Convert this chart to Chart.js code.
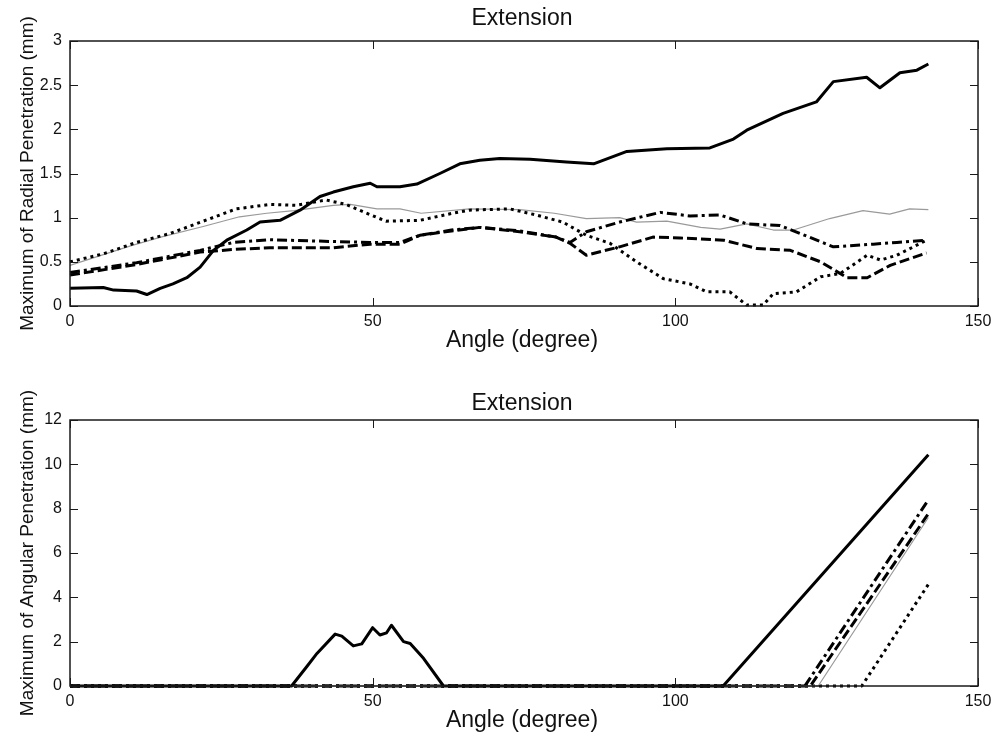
<!DOCTYPE html>
<html>
<head>
<meta charset="utf-8">
<script src="https://cdn.jsdelivr.net/npm/chart.js@4.4.0/dist/chart.umd.min.js"></script>
<style>
    body { margin: 0; background: #fff; }
    .panel { position: absolute; left: 0; width: 1005px; height: 368px; }
</style>
</head>
<body>
<div class="panel" style="top:0"><canvas id="radialChart" width="1005" height="368"></canvas></div>
<div class="panel" style="top:368px"><canvas id="angularChart" width="1005" height="368"></canvas></div>
<script>
// ============================================
// DATA
// ============================================

const angleTicks = [0, 50, 100, 150];
const radialTicks = [0, 0.5, 1, 1.5, 2, 2.5, 3];
const angularTicks = [0, 2, 4, 6, 8, 10, 12];

// Top panel - maximum of radial penetration (mm)
const radialSolidAngle = [0, 5.5, 7.2, 11, 12.7, 14.9, 17, 19.3, 21.5, 23.7, 25.9, 29.2, 31.4, 34.7, 38, 41.3, 43.5, 46.8, 49.6, 50.7, 54.5, 57.3, 61.1, 64.4, 67.7, 71, 76, 82, 86.5, 92, 98.6, 105.7, 109.6, 111.8, 117.8, 123.3, 126.1, 131.6, 133.8, 137.1, 139.9, 141.8];
const radialSolidValue = [0.2, 0.21, 0.18, 0.17, 0.13, 0.2, 0.25, 0.32, 0.44, 0.63, 0.745, 0.86, 0.95, 0.97, 1.085, 1.24, 1.29, 1.35, 1.39, 1.35, 1.35, 1.38, 1.5, 1.61, 1.65, 1.67, 1.66, 1.63, 1.61, 1.75, 1.78, 1.79, 1.89, 1.99, 2.18, 2.31, 2.54, 2.59, 2.47, 2.64, 2.67, 2.74];

const radialGrayAngle = [0, 10, 15, 22, 28, 32.5, 37, 43.5, 46.3, 50.7, 54.5, 58, 66, 74.3, 80, 85.3, 90.8, 93.6, 98.6, 104.2, 107.4, 111.8, 116.2, 119.5, 125.5, 131, 135.4, 138.7, 141.8];
const radialGrayValue = [0.46, 0.68, 0.78, 0.9, 1.01, 1.05, 1.08, 1.14, 1.15, 1.1, 1.1, 1.05, 1.1, 1.09, 1.05, 0.99, 1.0, 0.95, 0.96, 0.89, 0.87, 0.93, 0.86, 0.86, 0.99, 1.08, 1.04, 1.1, 1.09];

const radialDotAngle = [0, 5.5, 11, 16.5, 22, 27.5, 33, 37.4, 42.3, 45.6, 48.3, 52.2, 57.8, 63.2, 66, 72.6, 77, 81.4, 85.3, 89.2, 93.6, 98, 102.4, 105.2, 109, 111.8, 114.5, 116.2, 120, 124, 127.3, 131.7, 133.9, 136.6, 141.5];
const radialDotValue = [0.5, 0.59, 0.72, 0.82, 0.96, 1.1, 1.15, 1.14, 1.2, 1.15, 1.07, 0.96, 0.97, 1.05, 1.085, 1.1, 1.03, 0.95, 0.8, 0.71, 0.5, 0.31, 0.25, 0.16, 0.16, 0.01, 0.01, 0.14, 0.16, 0.33, 0.37, 0.575, 0.52, 0.575, 0.745];

const radialDashAngle = [0, 11, 21.5, 27, 33, 43.5, 49.6, 54.5, 57.8, 63, 67.7, 74.3, 80.3, 82.6, 85.3, 90.8, 96.3, 100.8, 108, 113.5, 119, 124, 128.4, 131.7, 135.5, 141.5];
const radialDashValue = [0.35, 0.47, 0.61, 0.64, 0.66, 0.66, 0.7, 0.7, 0.8, 0.85, 0.89, 0.84, 0.78, 0.71, 0.575, 0.67, 0.78, 0.77, 0.745, 0.65, 0.63, 0.5, 0.32, 0.32, 0.46, 0.6];

const radialDashDotAngle = [0, 11, 21.5, 27, 33, 43.5, 49.6, 54.5, 57.8, 63, 67.7, 74.3, 80.3, 82.6, 85.3, 90.8, 97.5, 102.4, 107.4, 111.8, 117.3, 119.2, 126.1, 132.7, 136.6, 141.5];
const radialDashDotValue = [0.38, 0.49, 0.63, 0.72, 0.75, 0.73, 0.72, 0.72, 0.8, 0.86, 0.89, 0.85, 0.78, 0.72, 0.84, 0.95, 1.06, 1.02, 1.03, 0.93, 0.91, 0.86, 0.67, 0.7, 0.72, 0.745];

// Bottom panel - maximum of angular penetration (mm)
const angularSolidAngle = [0, 36.6, 39.1, 40.8, 43.8, 44.9, 46.8, 48.2, 50, 51.2, 52.3, 53.1, 55.1, 56.2, 58.4, 61.7, 107.9, 141.8];
const angularSolidValue = [0, 0, 0.87, 1.47, 2.34, 2.25, 1.81, 1.9, 2.63, 2.3, 2.4, 2.74, 2.0, 1.92, 1.25, 0, 0, 10.43];

const angularGrayAngle = [0, 123.6, 141.8];
const angularGrayValue = [0, 0, 7.6];

const angularDotAngle = [0, 130.8, 142.1];
const angularDotValue = [0, 0, 4.71];

const angularDashAngle = [0, 122.3, 141.8];
const angularDashValue = [0, 0, 7.77];

const angularDashDotAngle = [0, 121.4, 141.8];
const angularDashDotValue = [0, 0, 8.4];

// ============================================
// STYLES
// ============================================

const FONT = '"Liberation Sans", Arial, Helvetica, sans-serif';

const lineStyles = {
    solid:   { borderColor: '#000', borderWidth: 3, borderDash: [] },
    gray:    { borderColor: '#9a9a9a', borderWidth: 1.2, borderDash: [] },
    dot:     { borderColor: '#000', borderWidth: 3, borderDash: [3, 4] },
    dash:    { borderColor: '#000', borderWidth: 3, borderDash: [10, 4] },
    dashDot: { borderColor: '#000', borderWidth: 3, borderDash: [10, 4, 3, 4] }
};

function series(angles, values, style) {
    return {
        data: angles.map((a, i) => ({ x: a, y: values[i] })),
        ...lineStyles[style],
        pointRadius: 0,
        tension: 0,
        fill: false,
        clip: false,
        borderCapStyle: 'butt',
        borderJoinStyle: 'round'
    };
}

// MATLAB-like box with inward ticks, plus title and axis labels
const matlabAxes = {
    id: 'matlabAxes',
    afterDatasetsDraw(chart, args, opts) {
        const { ctx, chartArea: a, scales: { x, y } } = chart;
        ctx.save();

        ctx.strokeStyle = '#1a1a1a';
        ctx.lineWidth = 1;
        ctx.beginPath();
        x.ticks.forEach(t => {
            const px = Math.round(x.getPixelForValue(t.value)) + 0.5;
            ctx.moveTo(px, a.bottom); ctx.lineTo(px, a.bottom - 8);
            ctx.moveTo(px, a.top); ctx.lineTo(px, a.top + 8);
        });
        y.ticks.forEach(t => {
            const py = Math.round(y.getPixelForValue(t.value)) + 0.5;
            ctx.moveTo(a.left, py); ctx.lineTo(a.left + 8, py);
            ctx.moveTo(a.right, py); ctx.lineTo(a.right - 8, py);
        });
        ctx.stroke();

        ctx.lineWidth = 1.5;
        ctx.strokeRect(a.left, a.top, a.right - a.left, a.bottom - a.top);

        ctx.fillStyle = '#111';
        ctx.textAlign = 'center';
        ctx.textBaseline = 'alphabetic';
        ctx.font = '23px ' + FONT;
        ctx.fillText(opts.title, 522, opts.titleY);
        ctx.fillText(opts.xLabel, 522, opts.xLabelY);

        ctx.translate(opts.yLabelX, (a.top + a.bottom) / 2);
        ctx.rotate(-Math.PI / 2);
        ctx.font = '19px ' + FONT;
        ctx.fillText(opts.yLabel, 0, 0);
        ctx.restore();
    }
};

function makePanel(canvasId, cfg) {
    const ctx = document.getElementById(canvasId).getContext('2d');
    return new Chart(ctx, {
        type: 'line',
        data: { datasets: cfg.datasets },
        options: {
            responsive: false,
            animation: false,
            devicePixelRatio: 1,
            layout: { padding: { top: cfg.padTop, right: 27, left: 0, bottom: 0 } },
            plugins: {
                legend: { display: false },
                tooltip: { enabled: false },
                matlabAxes: cfg.labels
            },
            scales: {
                x: {
                    type: 'linear',
                    min: 0,
                    max: 150,
                    afterBuildTicks: s => { s.ticks = angleTicks.map(v => ({ value: v })); },
                    afterFit: s => { s.height = cfg.xHeight; },
                    grid: { display: false, drawTicks: false },
                    border: { display: false },
                    ticks: { color: '#111', font: { family: FONT, size: 16 }, padding: 6, maxRotation: 0, autoSkip: false, callback: v => String(v) }
                },
                y: {
                    type: 'linear',
                    min: 0,
                    max: cfg.yMax,
                    afterBuildTicks: s => { s.ticks = cfg.yTicks.map(v => ({ value: v })); },
                    afterFit: s => { s.width = 70; },
                    grid: { display: false, drawTicks: false },
                    border: { display: false },
                    ticks: { color: '#111', font: { family: FONT, size: 16 }, padding: 8, callback: v => String(v) }
                }
            }
        },
        plugins: [matlabAxes]
    });
}

makePanel('radialChart', {
    padTop: 41,
    xHeight: 62,
    yMax: 3,
    yTicks: radialTicks,
    labels: { title: 'Extension', titleY: 25, xLabel: 'Angle (degree)', xLabelY: 347, yLabel: 'Maximum of Radial Penetration (mm)', yLabelX: 33 },
    datasets: [
        series(radialSolidAngle, radialSolidValue, 'solid'),
        series(radialDotAngle, radialDotValue, 'dot'),
        series(radialDashDotAngle, radialDashDotValue, 'dashDot'),
        series(radialDashAngle, radialDashValue, 'dash'),
        series(radialGrayAngle, radialGrayValue, 'gray')
    ]
});

makePanel('angularChart', {
    padTop: 52,
    xHeight: 50,
    yMax: 12,
    yTicks: angularTicks,
    labels: { title: 'Extension', titleY: 42, xLabel: 'Angle (degree)', xLabelY: 359, yLabel: 'Maximum of Angular Penetration (mm)', yLabelX: 33 },
    datasets: [
        series(angularSolidAngle, angularSolidValue, 'solid'),
        series(angularGrayAngle, angularGrayValue, 'gray'),
        series(angularDotAngle, angularDotValue, 'dot'),
        series(angularDashDotAngle, angularDashDotValue, 'dashDot'),
        series(angularDashAngle, angularDashValue, 'dash')
    ]
});
</script>
</body>
</html>
